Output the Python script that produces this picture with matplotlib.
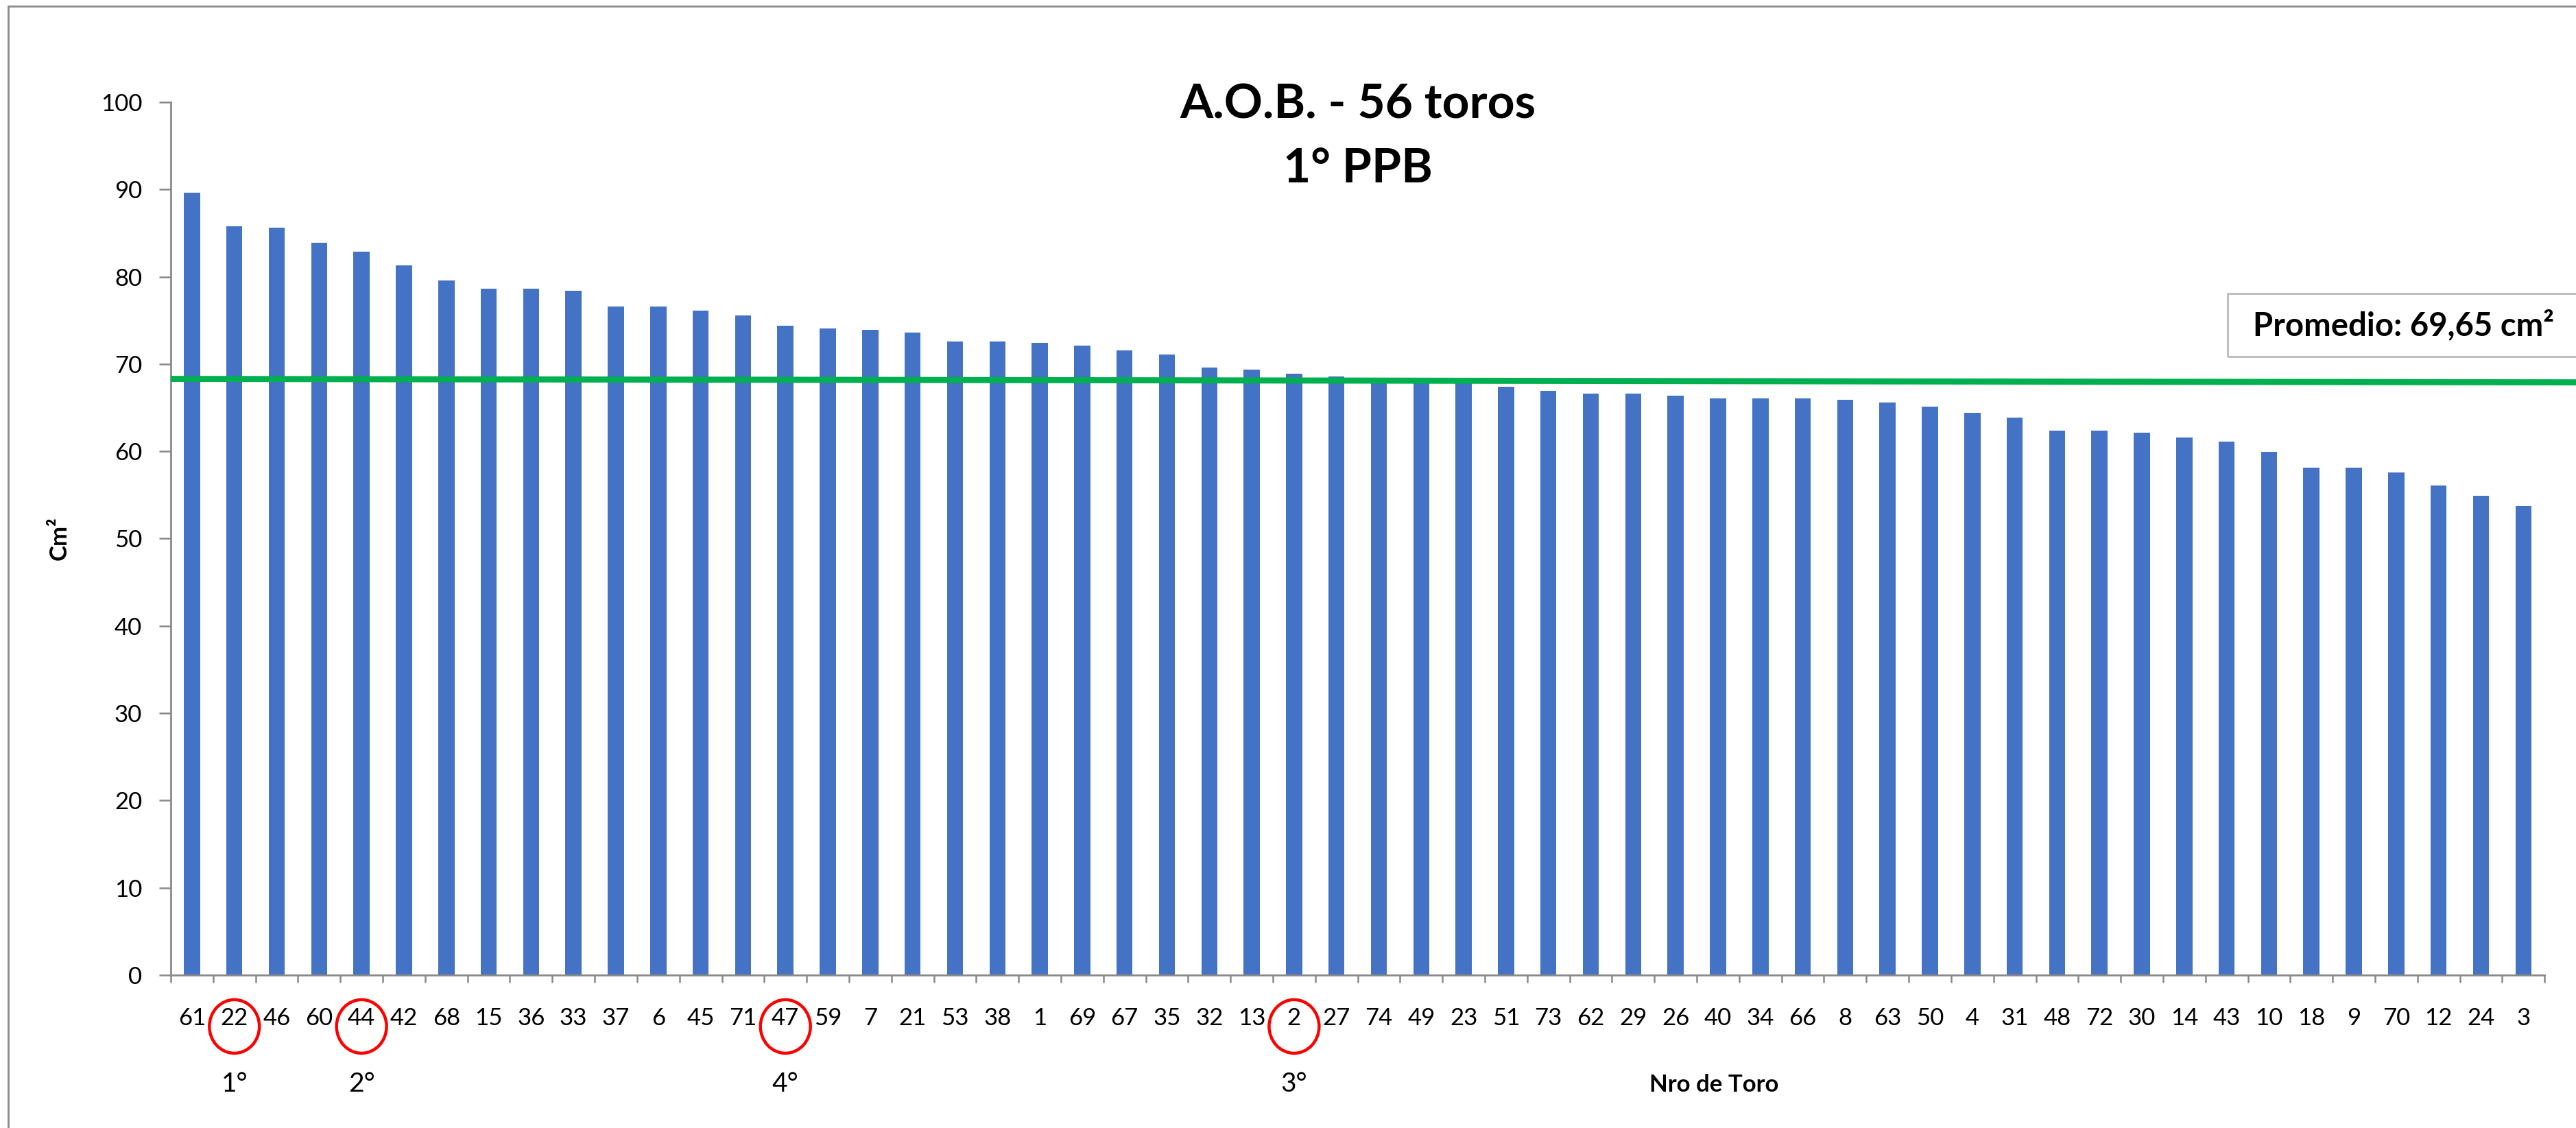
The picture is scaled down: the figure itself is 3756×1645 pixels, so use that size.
import matplotlib
matplotlib.use('Agg')
import matplotlib.pyplot as plt
from matplotlib.patches import Ellipse, Rectangle
from matplotlib.transforms import blended_transform_factory
import numpy as np

plt.rcParams['font.family'] = ['Lato', 'DejaVu Sans']

toros = ['61', '22', '46', '60', '44', '42', '68', '15', '36', '33',
         '37', '6', '45', '71', '47', '59', '7', '21', '53', '38',
         '1', '69', '67', '35', '32', '13', '2', '27', '74', '49',
         '23', '51', '73', '62', '29', '26', '40', '34', '66', '8',
         '63', '50', '4', '31', '48', '72', '30', '14', '43', '10',
         '18', '9', '70', '12', '24', '3']
aob = [89.6, 85.8, 85.6, 83.9, 82.9, 81.3, 79.6, 78.6, 78.6, 78.4,
       76.6, 76.6, 76.1, 75.6, 74.4, 74.1, 73.9, 73.6, 72.6, 72.6,
       72.4, 72.1, 71.6, 71.1, 69.6, 69.4, 68.9, 68.6, 68.0, 67.8,
       67.8, 67.4, 66.9, 66.6, 66.6, 66.4, 66.1, 66.1, 66.1, 65.9,
       65.6, 65.1, 64.4, 63.9, 62.4, 62.4, 62.1, 61.6, 61.1, 59.9,
       58.1, 58.1, 57.6, 56.1, 54.9, 53.7]

# toros marcados con circulo y su puesto
destacados = ['22', '44', '47', '2']
puestos = ['1°', '2°', '4°', '3°']

# linea verde del promedio (extremo izquierdo y derecho)
linea_promedio = [68.3, 67.9]
texto_promedio = 'Promedio: 69,65 cm²'

grey = '#898989'

fig = plt.figure(figsize=(18.78, 8.225), dpi=200)
ax = fig.add_axes([0.0663, 0.1356, 0.9215, 0.7738])

x = np.arange(len(toros))
ax.bar(x, aob, width=0.38, color='#4472C4', zorder=2)

ax.set_xlim(-0.5, len(toros) - 0.5)
ax.set_ylim(0, 100)
ax.set_yticks(np.arange(0, 101, 10))

# ticks del eje x entre categorias, etiquetas en el centro
ax.set_xticks(np.arange(-0.5, len(toros), 1.0))
ax.set_xticklabels([])
ax.set_xticks(x, minor=True)
ax.set_xticklabels(toros, minor=True)
ax.tick_params(axis='x', which='major', length=4, width=0.9, color=grey)
ax.tick_params(axis='x', which='minor', length=0, pad=17, labelsize=12.5)
ax.tick_params(axis='y', length=6, width=0.9, color=grey, pad=9,
               labelsize=12.5)

for side in ['top', 'right']:
    ax.spines[side].set_visible(False)
for side in ['left', 'bottom']:
    ax.spines[side].set_color(grey)
    ax.spines[side].set_linewidth(1.0)

# linea de promedio, sigue hasta el borde derecho
x_end = len(toros) - 0.5 + 0.75
ax.plot([-0.5, x_end], linea_promedio, color='#00B050', lw=3.2,
        solid_capstyle='butt', clip_on=False, zorder=3)

# titulo en dos lineas
fig.text(0.5272, 1 - 153 / 1645, 'A.O.B. - 56 toros', fontsize=25,
         fontweight='bold', ha='center', va='center')
fig.text(0.5272, 1 - 247 / 1645, '1° PPB', fontsize=25,
         fontweight='bold', ha='center', va='center')

ax.text(-0.0468, 0.5, 'Cm²', fontsize=12.5, fontweight='bold',
        rotation=90, ha='center', va='center', transform=ax.transAxes)

trans = blended_transform_factory(ax.transData, ax.transAxes)
ax.text(35.9, -0.126, 'Nro de Toro', fontsize=12.5, fontweight='bold',
        ha='center', va='center', transform=trans)

for toro, puesto in zip(destacados, puestos):
    i = toros.index(toro)
    ax.add_patch(Ellipse((i, -0.0589), 1.18, 0.0613, fill=False,
                         edgecolor='#FF0000', lw=1.6, transform=trans,
                         clip_on=False))
    ax.text(i, -0.125, puesto, fontsize=14, ha='center', va='center',
            transform=trans)

# cuadro del promedio
fig.patches.append(Rectangle((3248 / 3756, 1 - 520 / 1645), 0.2, 92 / 1645,
                             transform=fig.transFigure, fill=False,
                             edgecolor='#BFBFBF', lw=1.1))
fig.text(3285 / 3756, 1 - 474 / 1645, texto_promedio, fontsize=17,
         fontweight='bold', ha='left', va='center')

# borde del grafico
fig.patches.append(Rectangle((12 / 3756, -0.1), 1.1, 1.1 - 9 / 1645,
                             transform=fig.transFigure, fill=False,
                             edgecolor='#8C8C8C', lw=1.0))

fig.savefig('out.png', dpi=200)
